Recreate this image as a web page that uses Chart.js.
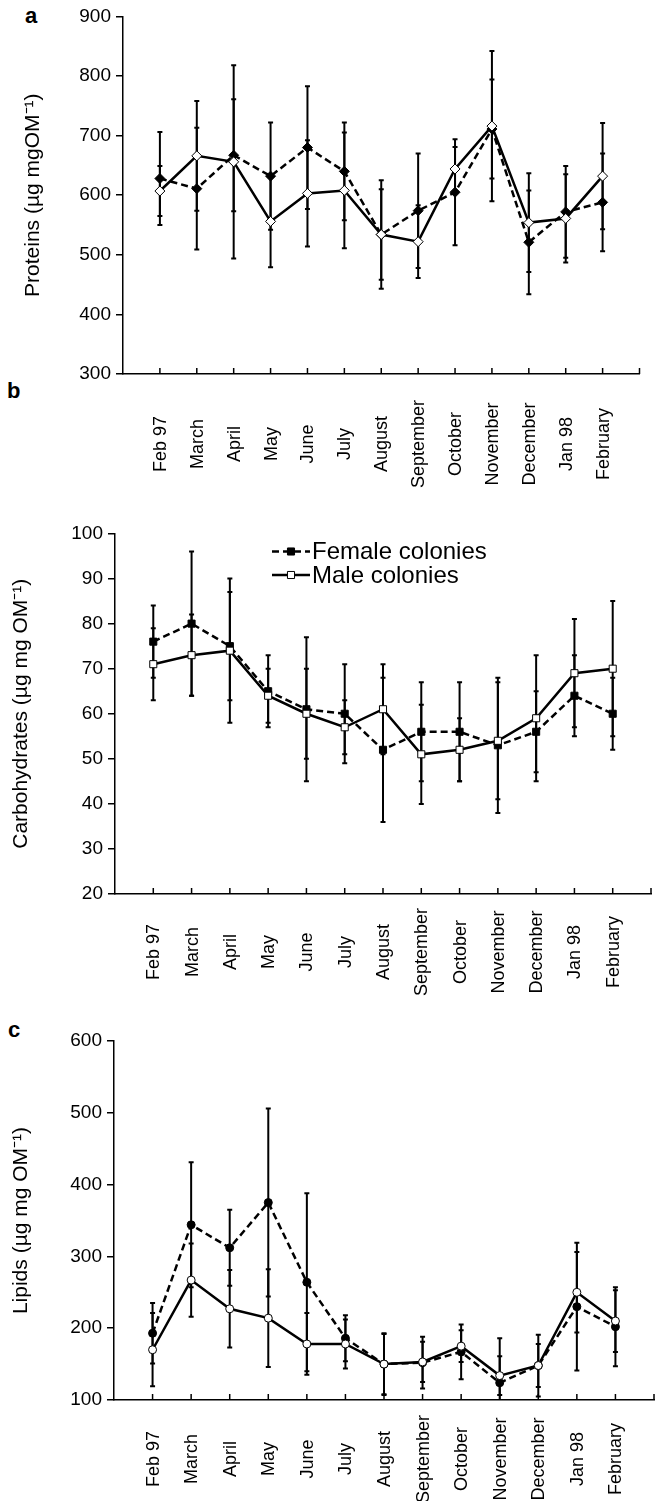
<!DOCTYPE html>
<html>
<head>
<meta charset="utf-8">
<script src="https://cdn.jsdelivr.net/npm/chart.js@4.4.1/dist/chart.umd.min.js"></script>
<style>
  body { margin: 0; background: #fff; width: 659px; height: 1501px; position: relative; overflow: hidden;
         font-family: "Liberation Sans", Arial, sans-serif; }
  canvas { position: absolute; left: 0; }
  .panel { position: absolute; font-weight: bold; font-size: 22px; line-height: 1; color: #000; }
</style>
</head>
<body>
<div class="panel" style="left:25px;top:5px">a</div>
<div class="panel" style="left:7px;top:380px">b</div>
<div class="panel" style="left:8px;top:1019px">c</div>
<canvas id="chartA" width="659" height="500" style="top:0;width:659px;height:500px"></canvas>
<canvas id="chartB" width="659" height="630" style="top:380px;width:659px;height:630px"></canvas>
<canvas id="chartC" width="659" height="491" style="top:1010px;width:659px;height:491px"></canvas>
<script>
const months = ['Feb 97','March','April','May','June','July','August','September','October','November','December','Jan 98','February'];

// a - proteins
const proteinTicks = [300, 400, 500, 600, 700, 800, 900];
const proteinFemale = [628, 611, 667, 632, 680, 640, 534, 574, 605, 711, 521, 572, 588];
const proteinFemaleErr = [78, 102, 94, 90, 103, 82, 91, 96, 89, 83, 87, 77, 82];
const proteinMale = [607, 666, 656, 556, 603, 608, 534, 522, 644, 716, 554, 561, 632];
const proteinMaleErr = [42, 92, 162, 77, 89, 97, 76, 61, 37, 126, 83, 74, 89];

// b - carbohydrates
const carbTicks = [20, 30, 40, 50, 60, 70, 80, 90, 100];
const carbFemale = [76, 80, 75, 65, 61, 60, 52, 56, 56, 53, 56, 64, 60];
const carbFemaleErr = [8, 16, 12, 8, 16, 11, 16, 11, 11, 15, 9, 9, 8];
const carbMale = [71, 73, 74, 64, 60, 57, 61, 51, 52, 54, 59, 69, 70];
const carbMaleErr = [8, 9, 16, 6, 10, 6, 10, 11, 7, 13, 14, 12, 15];

// c - lipids
const lipidTicks = [100, 200, 300, 400, 500, 600];
const lipidFemale = [193, 344, 312, 375, 264, 186, 150, 152, 167, 124, 148, 230, 202];
const lipidFemaleErr = [42, 87, 53, 131, 124, 32, 43, 36, 38, 62, 43, 89, 55];
const lipidMale = [170, 267, 227, 214, 178, 178, 150, 153, 175, 134, 148, 250, 210];
const lipidMaleErr = [51, 51, 54, 68, 43, 34, 42, 28, 22, 27, 30, 56, 43];

const FONT = '"Liberation Sans", Arial, sans-serif';

function pts(values) {
  return values.map((v, i) => ({ x: i + 1, y: v }));
}

function drawMarker(ctx, style, r, x, y) {
  ctx.beginPath();
  if (style === 'rect') {
    const s = Math.SQRT1_2 * r;
    ctx.rect(x - s, y - s, 2 * s, 2 * s);
  } else if (style === 'rectRot') {
    ctx.moveTo(x, y - r); ctx.lineTo(x + r, y); ctx.lineTo(x, y + r); ctx.lineTo(x - r, y); ctx.closePath();
  } else {
    ctx.arc(x, y, r, 0, Math.PI * 2);
  }
  ctx.fill();
  ctx.stroke();
}

const errorBars = {
  id: 'errorBars',
  beforeDatasetsDraw(chart) {
    const { ctx, chartArea: a, scales: { x, y } } = chart;
    ctx.save();
    ctx.beginPath();
    ctx.rect(a.left, a.top - 2, a.right - a.left, a.bottom - a.top + 2);
    ctx.clip();
    ctx.strokeStyle = '#000';
    ctx.lineWidth = 2;
    chart.data.datasets.forEach(ds => {
      ds.data.forEach((p, i) => {
        const e = ds.errors[i];
        const px = x.getPixelForValue(p.x);
        const top = y.getPixelForValue(p.y + e);
        const bot = y.getPixelForValue(p.y - e);
        ctx.beginPath();
        ctx.moveTo(px, top); ctx.lineTo(px, bot);
        ctx.moveTo(px - 2.5, top); ctx.lineTo(px + 2.5, top);
        ctx.moveTo(px - 2.5, bot); ctx.lineTo(px + 2.5, bot);
        ctx.stroke();
      });
    });
    ctx.restore();
  }
};

const monthAxis = {
  id: 'monthAxis',
  afterDraw(chart, args, opts) {
    const { ctx, chartArea: a, scales: { x } } = chart;
    ctx.save();
    ctx.strokeStyle = '#000';
    ctx.lineWidth = 1.5;
    for (let i = 1; i <= months.length + 1; i++) {
      const px = x.getPixelForValue(i);
      ctx.beginPath();
      ctx.moveTo(px, a.bottom);
      ctx.lineTo(px, a.bottom - 6);
      ctx.stroke();
    }
    ctx.fillStyle = '#000';
    ctx.font = '18px ' + FONT;
    ctx.textAlign = 'center';
    ctx.textBaseline = 'middle';
    months.forEach((m, i) => {
      ctx.save();
      ctx.translate(x.getPixelForValue(i + 1) + 1, a.bottom + opts.offset);
      ctx.rotate(-Math.PI / 2);
      ctx.fillText(m, 0, 0);
      ctx.restore();
    });
    ctx.restore();
  }
};

const insideLegend = {
  id: 'insideLegend',
  afterDraw(chart, args, opts) {
    if (!opts.show) return;
    const { ctx } = chart;
    // female first, then male
    [0, 1].forEach((k, row) => {
      const ds = chart.data.datasets[k];
      const y = opts.y + row * opts.gap;
      ctx.save();
      ctx.strokeStyle = '#000';
      ctx.lineWidth = ds.borderWidth;
      ctx.setLineDash(ds.borderDash || []);
      ctx.beginPath();
      ctx.moveTo(opts.x, y);
      ctx.lineTo(opts.x + opts.len, y);
      ctx.stroke();
      ctx.setLineDash([]);
      ctx.fillStyle = ds.pointBackgroundColor;
      ctx.lineWidth = ds.pointBorderWidth;
      drawMarker(ctx, ds.pointStyle, ds.pointRadius, opts.x + opts.len / 2, y);
      ctx.fillStyle = '#000';
      ctx.font = '24px ' + FONT;
      ctx.textBaseline = 'middle';
      ctx.textAlign = 'left';
      ctx.fillText(ds.label, opts.x + opts.len + 2, y + 1);
      ctx.restore();
    });
  }
};

function makeChart(id, p) {
  const female = {
    label: 'Female colonies',
    data: pts(p.female),
    errors: p.femaleErr,
    order: 1,
    borderColor: '#000',
    borderWidth: 2.5,
    borderDash: [7, 4],
    pointStyle: p.marker,
    pointRadius: p.radius,
    pointBackgroundColor: '#000',
    pointBorderColor: '#000',
    pointBorderWidth: 1,
    tension: 0,
    fill: false
  };
  const male = {
    label: 'Male colonies',
    data: pts(p.male),
    errors: p.maleErr,
    order: 0,
    borderColor: '#000',
    borderWidth: 2.5,
    pointStyle: p.marker,
    pointRadius: p.radius,
    pointBackgroundColor: '#fff',
    pointBorderColor: '#000',
    pointBorderWidth: 1,
    tension: 0,
    fill: false
  };
  return new Chart(document.getElementById(id), {
    type: 'line',
    data: { datasets: [female, male] },
    plugins: [errorBars, monthAxis, insideLegend],
    options: {
      responsive: false,
      animation: false,
      devicePixelRatio: 1,
      layout: { padding: { top: p.top, right: p.right, left: 0, bottom: 0 } },
      plugins: {
        legend: { display: false },
        tooltip: { enabled: false },
        monthAxis: { offset: p.labelOffset },
        insideLegend: p.legend || { show: false }
      },
      scales: {
        x: {
          type: 'linear',
          min: 0,
          max: months.length + 1,
          ticks: { display: false },
          grid: { display: false },
          border: { color: '#000', width: 1.5 },
          afterFit: s => { s.height = p.xHeight; }
        },
        y: {
          min: p.ticks[0],
          max: p.ticks[p.ticks.length - 1],
          afterBuildTicks: s => { s.ticks = p.ticks.map(v => ({ value: v })); },
          afterFit: s => { s.width = p.yWidth; },
          ticks: { color: '#000', padding: 5, font: { family: FONT, size: 19 } },
          grid: { drawOnChartArea: false, drawTicks: true, tickLength: 7, color: '#000', lineWidth: 1.5 },
          border: { color: '#000', width: 1.5 },
          title: {
            display: true,
            text: p.title,
            color: '#000',
            font: { family: FONT, size: 21 },
            padding: { top: p.titlePad, bottom: 0 }
          }
        }
      }
    }
  });
}

makeChart('chartA', {
  female: proteinFemale, femaleErr: proteinFemaleErr,
  male: proteinMale, maleErr: proteinMaleErr,
  ticks: proteinTicks, marker: 'rectRot', radius: 5,
  title: 'Proteins (µg mgOM⁻¹)', titlePad: 21,
  top: 15, right: 19.5, yWidth: 123, xHeight: 126, labelOffset: 70
});

makeChart('chartB', {
  female: carbFemale, femaleErr: carbFemaleErr,
  male: carbMale, maleErr: carbMaleErr,
  ticks: carbTicks, marker: 'rect', radius: 5,
  title: 'Carbohydrates (µg mg OM⁻¹)', titlePad: 9,
  top: 153.5, right: 8, yWidth: 115, xHeight: 116, labelOffset: 58,
  legend: { show: true, x: 272, len: 38, y: 171.5, gap: 23.5 }
});

makeChart('chartC', {
  female: lipidFemale, femaleErr: lipidFemaleErr,
  male: lipidMale, maleErr: lipidMaleErr,
  ticks: lipidTicks, marker: 'circle', radius: 4,
  title: 'Lipids (µg mg OM⁻¹)', titlePad: 9,
  top: 31, right: 4, yWidth: 114, xHeight: 101, labelOffset: 59
});
</script>
</body>
</html>
